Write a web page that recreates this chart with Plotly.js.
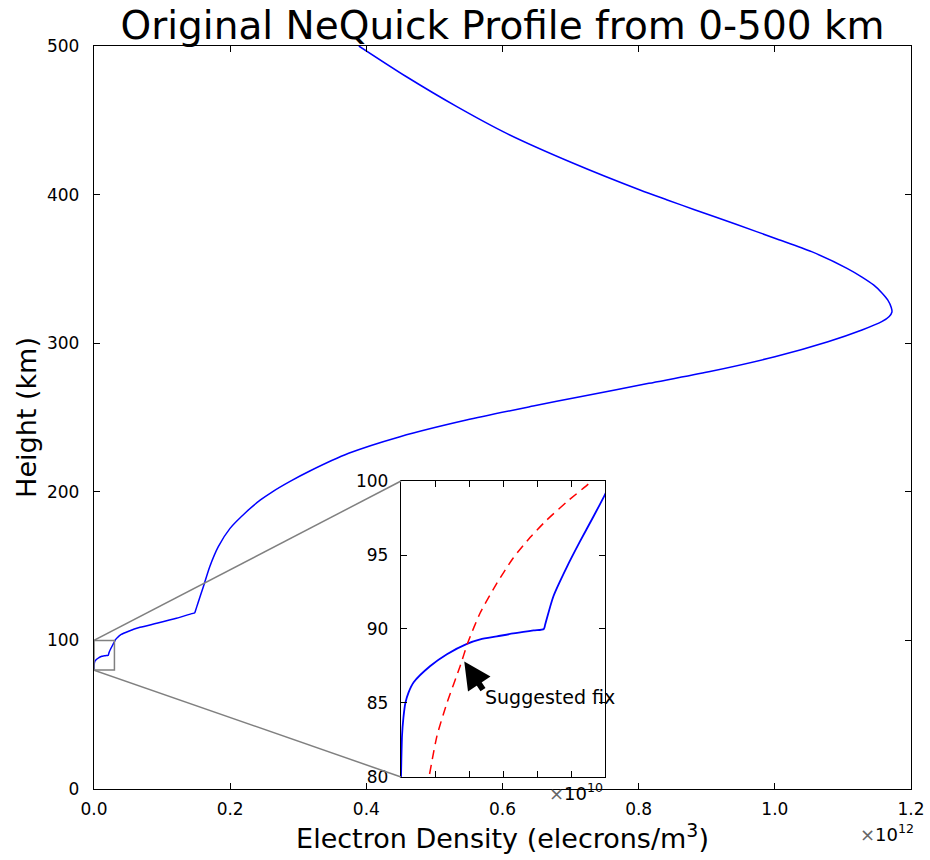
<!DOCTYPE html>
<html><head><meta charset="utf-8">
<script src="https://cdn.plot.ly/plotly-3.0.1.min.js"></script>
<style>body{margin:0;background:#fff}#chart{width:930px;height:860px}</style>
</head><body><div id="chart"></div>
<script>
// Original NeQuick profile: height (km) and electron density (units of 1e12 el/m^3)
const heightKm = [80, 82.8, 84.0, 85.0, 85.7, 86.4, 87.5, 88.3, 89.0, 89.3, 89.5, 89.7, 89.9, 90.0, 90.3, 92.2, 94.2, 95.9, 97.6, 99.0, 100.5, 102, 104, 106, 108.8, 111.5, 114.9, 118.0, 118.6, 119.5, 125, 136.1, 149.6, 163.1, 175.4, 186.6, 194.5, 200, 207, 214, 225.9, 237.1, 248.3, 257.7, 264.0, 273.0, 280.8, 290.9, 301.0, 308.9, 314.5, 318, 321, 324, 329, 334, 339.2, 344.5, 350.4, 361.6, 370, 380, 390, 396.4, 403.1, 421.1, 441.2, 459.2, 479.3, 500];
const densityE12 = [0, 0.00015, 0.00035, 0.00064, 0.0011, 0.00186, 0.0043, 0.00675, 0.0097, 0.01165, 0.0141, 0.0165, 0.0195, 0.021, 0.0212, 0.0224, 0.0244, 0.0263, 0.0283, 0.0299, 0.0316, 0.0345, 0.040, 0.050, 0.0676, 0.092, 0.121, 0.1435, 0.148, 0.1487, 0.1526, 0.1606, 0.170, 0.1826, 0.1998, 0.224, 0.2445, 0.262, 0.288, 0.317, 0.374, 0.4495, 0.547, 0.645, 0.714, 0.815, 0.903, 1.000, 1.078, 1.128, 1.157, 1.168, 1.172, 1.171, 1.166, 1.157, 1.145, 1.128, 1.106, 1.054, 1.004, 0.943, 0.881, 0.842, 0.802, 0.704, 0.606, 0.533, 0.459, 0.389];

// Suggested fix (units of 1e10 el/m^3)
const fixHeightKm = [80.2, 82.8, 85.0, 87.5, 89.05, 91.1, 93.1, 94.8, 96.2, 97.35, 98.6, 99.8, 100];
const fixDensityE10 = [0.42, 0.53, 0.675, 0.87, 0.98, 1.165, 1.41, 1.65, 1.9, 2.14, 2.44, 2.755, 2.80];

const mainXTicks = [0, 0.2, 0.4, 0.6, 0.8, 1.0, 1.2];
const mainXTickText = ['0.0', '0.2', '0.4', '0.6', '0.8', '1.0', '1.2'];
const mainYTicks = [0, 100, 200, 300, 400, 500];
const insetXTicks = [0, 0.5, 1, 1.5, 2, 2.5, 3];
const insetYTicks = [80, 85, 90, 95, 100];
const mainXRange = [0, 1.2];
const mainYRange = [0, 500];
const insetXRange = [0, 3];
const insetYRange = [80, 100];
const insetDomX = [0.3758, 0.6255];
const insetDomY = [0.0162, 0.4145];

const FONT = 'DejaVu Sans, sans-serif';
const insetDensityE10 = densityE12.map(v => v * 100);

const traces = [
  {x: densityE12, y: heightKm, xaxis: 'x', yaxis: 'y', mode: 'lines',
   line: {color: '#0000ff', width: 1.5, shape: 'spline', smoothing: 0.7}, hoverinfo: 'skip'},
  {x: insetDensityE10, y: heightKm, xaxis: 'x2', yaxis: 'y2', mode: 'lines',
   line: {color: '#0000ff', width: 1.8, shape: 'spline', smoothing: 0.7}, hoverinfo: 'skip'},
  {x: fixDensityE10, y: fixHeightKm, xaxis: 'x2', yaxis: 'y2', mode: 'lines',
   line: {color: '#ff0000', width: 1.5, dash: '9px,6px', shape: 'spline', smoothing: 0.6}, hoverinfo: 'skip'}
];

const axBase = {showline: true, linecolor: '#000', linewidth: 1.2, mirror: 'ticks', ticks: 'inside',
  ticklen: 6, tickcolor: '#000', tickwidth: 1, showgrid: false, zeroline: false,
  tickfont: {family: FONT, size: 17, color: '#000'}};

const boxX1 = insetXRange[1] / 100;
const cornerX = mainXRange[0] + insetDomX[0] * (mainXRange[1] - mainXRange[0]);
const cornerTopY = mainYRange[0] + insetDomY[1] * (mainYRange[1] - mainYRange[0]);
const cornerBotY = mainYRange[0] + insetDomY[0] * (mainYRange[1] - mainYRange[0]);

const layout = {
  width: 930, height: 860,
  margin: {l: 94, r: 19, t: 46, b: 71},
  paper_bgcolor: '#fff', plot_bgcolor: '#fff',
  showlegend: false,
  font: {family: FONT, color: '#000'},
  title: {text: 'Original NeQuick Profile from 0-500 km', font: {family: FONT, size: 39, color: '#000'},
    x: 0.5, xref: 'paper', y: 1, yref: 'paper', yanchor: 'bottom', pad: {b: 7}},
  xaxis: Object.assign({}, axBase, {domain: [0, 1], range: mainXRange, tickvals: mainXTicks, ticktext: mainXTickText,
    ticklabelstandoff: 4,
    title: {text: 'Electron Density (elecrons/m<sup>3</sup>)', font: {family: FONT, size: 27, color: '#000'}, standoff: 10},
    automargin: false}),
  yaxis: Object.assign({}, axBase, {domain: [0, 1], range: mainYRange, tickvals: mainYTicks,
    ticklabelstandoff: 10,
    title: {text: 'Height (km)', font: {family: FONT, size: 27, color: '#000'}, standoff: 2},
    automargin: false}),
  xaxis2: Object.assign({}, axBase, {domain: insetDomX, range: insetXRange, tickvals: insetXTicks,
    showticklabels: false, anchor: 'y2'}),
  yaxis2: Object.assign({}, axBase, {domain: insetDomY, range: insetYRange, tickvals: insetYTicks,
    ticklabelstandoff: 8, anchor: 'x2'}),
  shapes: [
    {type: 'rect', xref: 'x', yref: 'y', x0: 0, x1: boxX1, y0: insetYRange[0], y1: insetYRange[1],
     line: {color: '#808080', width: 1.5}, fillcolor: 'rgba(0,0,0,0)'},
    {type: 'line', xref: 'x', yref: 'y', x0: 0, y0: insetYRange[1], x1: cornerX, y1: cornerTopY,
     line: {color: '#808080', width: 1.5}},
    {type: 'line', xref: 'x', yref: 'y', x0: 0, y0: insetYRange[0], x1: cornerX, y1: cornerBotY,
     line: {color: '#808080', width: 1.5}}
  ],
  annotations: [
    {xref: 'x2', yref: 'y2', x: 0.93, y: 87.8, axref: 'x2', ayref: 'y2', ax: 1.22, ay: 85.8,
     text: '', showarrow: true, arrowhead: 2, arrowsize: 0.9, arrowwidth: 6, arrowcolor: '#000'},
    {xref: 'x2', yref: 'y2', x: 1.2, y: 85.4, xanchor: 'left', yanchor: 'middle', showarrow: false,
     text: 'Suggested fix', font: {family: FONT, size: 19, color: '#000'}},
    {xref: 'paper', yref: 'paper', x: insetDomX[1], y: 0.0145, xanchor: 'right', yanchor: 'top', showarrow: false,
     text: '<span style="color:#666">×</span>10<sup>10</sup>', font: {family: FONT, size: 18, color: '#000'}},
    {xref: 'paper', yref: 'paper', x: 0.935, y: -0.041, xanchor: 'left', yanchor: 'top', showarrow: false,
     text: '<span style="color:#666">×</span>10<sup>12</sup>', font: {family: FONT, size: 18, color: '#000'}}
  ]
};

Plotly.newPlot('chart', traces, layout, {displayModeBar: false, staticPlot: true});
</script>
</body></html>
